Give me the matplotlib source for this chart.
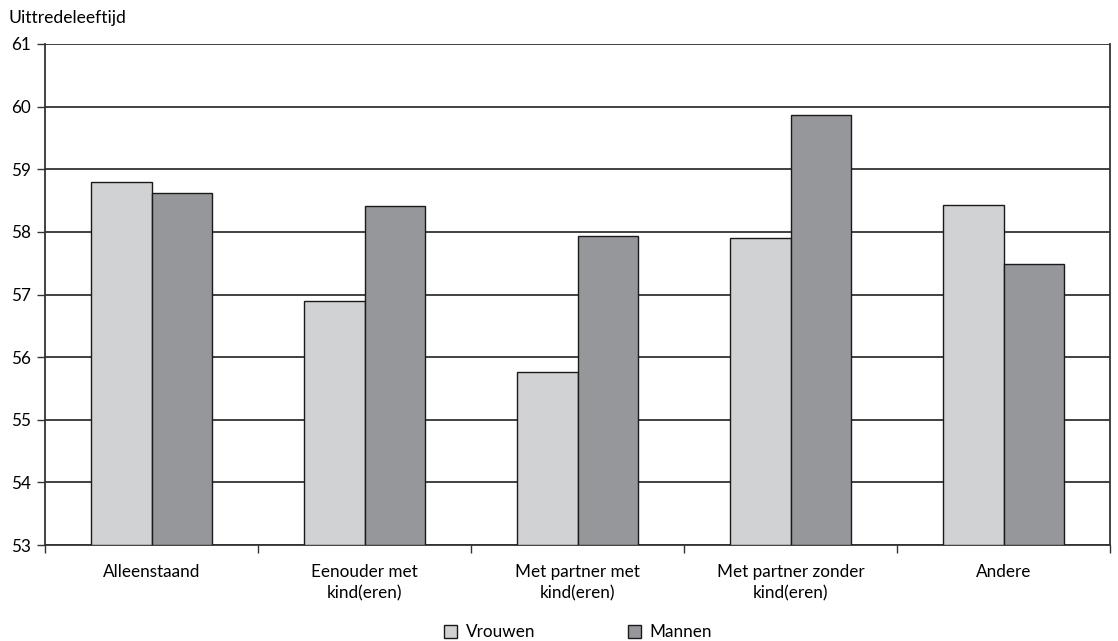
import matplotlib
matplotlib.use("Agg")
import matplotlib.pyplot as plt
import numpy as np

categories = ["Alleenstaand", "Eenouder met\nkind(eren)", "Met partner met\nkind(eren)",
              "Met partner zonder\nkind(eren)", "Andere"]
vrouwen = [58.79, 56.90, 55.76, 57.90, 58.43]
mannen = [58.62, 58.42, 57.93, 59.86, 57.48]
yticks = [53, 54, 55, 56, 57, 58, 59, 60, 61]
ylabel = "Uittredeleeftijd"

plt.rcParams['font.family'] = ['Lato', 'DejaVu Sans']
FS = 12.3

fig = plt.figure(figsize=(11.18, 6.41), dpi=100)
ax = fig.add_axes([45/1118, 1-545/641, (1110-45)/1118, (545-44)/641])

x = np.arange(len(categories))
w = 0.285
ax.bar(x - w/2, [v - 53 for v in vrouwen], w, bottom=53, color="#d1d2d4",
       edgecolor="#1a1a1a", linewidth=1.0, label="Vrouwen", zorder=3)
ax.bar(x + w/2, [v - 53 for v in mannen], w, bottom=53, color="#96979b",
       edgecolor="#1a1a1a", linewidth=1.0, label="Mannen", zorder=3)

ax.set_ylim(53, 61)
ax.set_xlim(-0.5, len(categories) - 0.5)
ax.set_yticks(yticks)
ax.set_yticklabels([str(t) for t in yticks], fontsize=FS)
ax.yaxis.grid(True, color="#333333", linewidth=1.3, zorder=0)
ax.set_axisbelow(True)

ax.set_xticks(x)
ax.set_xticklabels(categories, fontsize=FS, linespacing=1.4)
ax.tick_params(axis='x', length=0, pad=14)
ax.set_xticks(np.arange(-0.5, len(categories)), minor=True)
ax.tick_params(axis='x', which='minor', length=6, width=1, color="#333333", direction='out')
ax.tick_params(axis='y', length=6, width=1, color="#333333", pad=4)

ax.spines['top'].set_visible(False)
for s in ['left', 'right', 'bottom']:
    ax.spines[s].set_color("#333333")
    ax.spines[s].set_linewidth(1.3)

fig.text(8/1118, 1-18/641, ylabel, fontsize=12.6, va='center', ha='left')

leg = fig.legend(loc='center', bbox_to_anchor=(578/1118, 1-632/641), ncol=2, frameon=False,
                 fontsize=FS, handlelength=0.8, handleheight=0.8, columnspacing=5.4,
                 handletextpad=0.5, borderpad=0, borderaxespad=0)

fig.savefig("out.png", dpi=100)
